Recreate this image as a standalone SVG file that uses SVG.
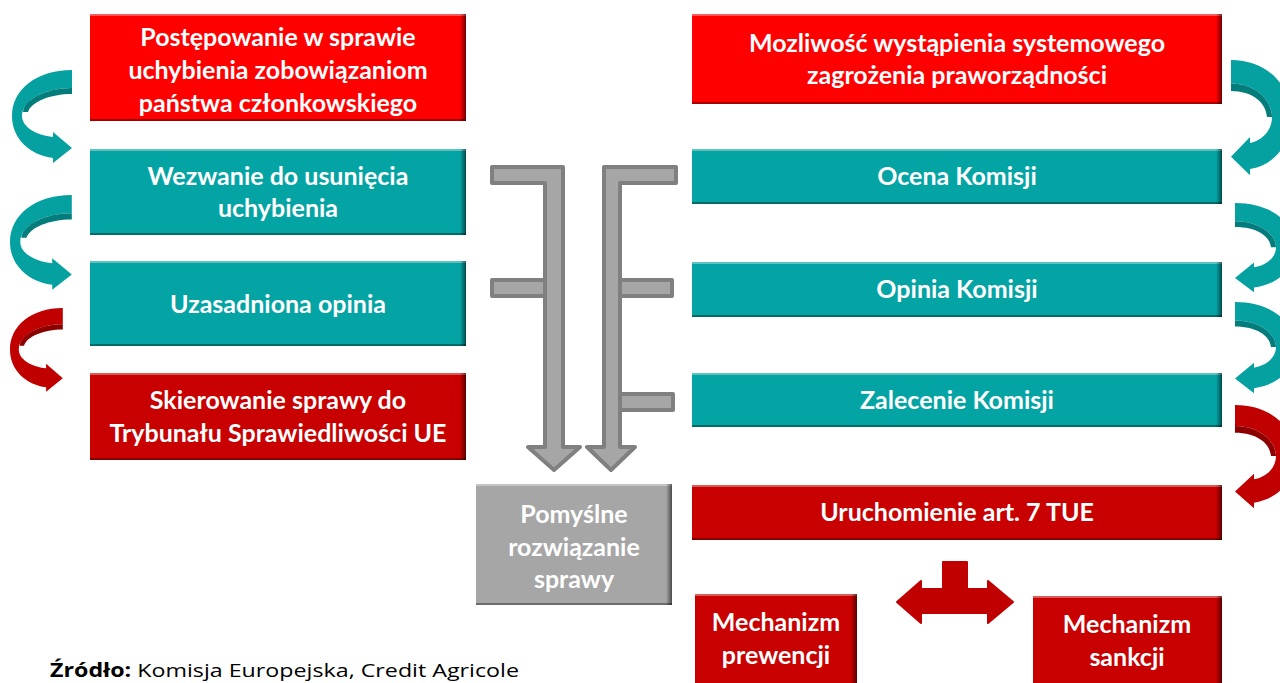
<svg xmlns="http://www.w3.org/2000/svg" width="1280" height="683" viewBox="0 0 1280 683">
<defs>
<style>
.t{font-family:Lato,"Liberation Sans",sans-serif;font-weight:bold;font-size:25px;fill:#fff;text-anchor:middle}
.red{fill:#ff0000}
.dred{fill:#c80000}
.teal{fill:#05a4a4}
.grey{fill:#a6a6a6}
.edge{fill:url(#edgeR)}
.bot{fill:#000;opacity:.35}
.top{fill:#fff;opacity:.35}
.ga{fill:#a6a6a6;stroke:#808080;stroke-width:4;stroke-linejoin:round}
.src{font-family:"Open Sans","Liberation Sans",sans-serif;font-size:19px;fill:#000}
</style>
<linearGradient id="edgeR" x1="0" y1="0" x2="1" y2="0">
<stop offset="0" stop-color="#000" stop-opacity="0"/>
<stop offset="1" stop-color="#000" stop-opacity=".55"/>
</linearGradient>
<path id="carc" d="M60,0 C24,0 0,20 0,46 C0,69 18,85 41,88 L41,93 L60,78 L41,62 L41,67 C29,65 19,57 19,46 C19,32 36,19 60,19 Z"/>
<path id="cshade" d="M60,19 C36,19 19,32 19,46 L24,46 C25,34 39,25 60,25 Z"/>
<path id="carcL" d="M60,0 C24,0 0,20 0,46 C0,69 18,85 41,88 L41,93 L60,78 L41,62 L41,67 C24,65 10,57 10,46 C10,30 33,18 60,18 Z"/>
<path id="cshadeL" d="M60,18 C33,18 12,30 11,42 L16,42 C19,32 38,24 60,24 Z"/>
</defs>

<g id="connectors">
<g id="curve-l1" transform="translate(12,70)"><use href="#carcL" fill="#05a0a0"/><use href="#cshadeL" fill="#037c7c"/></g>
<g id="curve-l2" transform="translate(10,195) scale(1.03,1.02)"><use href="#carcL" fill="#05a0a0"/><use href="#cshadeL" fill="#037c7c"/></g>
<g id="curve-l3" transform="translate(10,308) scale(0.88,0.9)"><use href="#carcL" fill="#c00000"/><use href="#cshadeL" fill="#8e0000"/></g>
<g id="curve-r1" transform="translate(1291,60) scale(-1,1.24)"><use href="#carc" fill="#05a0a0"/><use href="#cshade" fill="#037c7c"/></g>
<g id="curve-r2" transform="translate(1295,203) scale(-1,0.96)"><use href="#carc" fill="#05a0a0"/><use href="#cshade" fill="#037c7c"/></g>
<g id="curve-r3" transform="translate(1295,302) scale(-1,0.98)"><use href="#carc" fill="#05a0a0"/><use href="#cshade" fill="#037c7c"/></g>
<g id="curve-r4" transform="translate(1295,405) scale(-1,1.11)"><use href="#carc" fill="#c00000"/><use href="#cshade" fill="#8e0000"/></g>

<g id="grey-left">
<rect class="ga" x="492" y="280" width="55" height="16"/>
<polygon class="ga" points="492,167 563,167 563,447 580,447 554,470 528,447 545,447 545,183 492,183"/>
</g>
<g id="grey-right">
<rect class="ga" x="618" y="280" width="54" height="16"/>
<rect class="ga" x="618" y="394" width="55" height="16"/>
<polygon class="ga" points="604,167 676,167 676,183 620,183 620,447 635,447 611,470 587,447 604,447"/>
</g>

<polygon id="double-arrow" fill="#c00000" stroke="#c00000" stroke-width="2" stroke-linejoin="round" points="897,602 921,581 921,589 943,589 943,562 967,562 967,589 988,589 988,581 1013,602 988,623 988,613 921,613 921,623"/>
</g>

<g id="n1"><rect class="red" x="90" y="14" width="376" height="107"/><rect class="top" x="90" y="14" width="376" height="2"/><rect class="edge" x="460" y="14" width="6" height="107"/><rect class="bot" x="90" y="119" width="376" height="2"/>
<text class="t" x="278" y="46">Postępowanie w sprawie</text><text class="t" x="278" y="79">uchybienia zobowiązaniom</text><text class="t" x="278" y="112">państwa członkowskiego</text></g>

<g id="n2"><rect class="teal" x="90" y="149" width="376" height="86"/><rect class="top" x="90" y="149" width="376" height="2"/><rect class="edge" x="460" y="149" width="6" height="86"/><rect class="bot" x="90" y="233" width="376" height="2"/>
<text class="t" x="278" y="185">Wezwanie do usunięcia</text><text class="t" x="278" y="217">uchybienia</text></g>

<g id="n3"><rect class="teal" x="90" y="261" width="376" height="85"/><rect class="top" x="90" y="261" width="376" height="2"/><rect class="edge" x="460" y="261" width="6" height="85"/><rect class="bot" x="90" y="344" width="376" height="2"/>
<text class="t" x="278" y="313">Uzasadniona opinia</text></g>

<g id="n4"><rect class="dred" x="90" y="373" width="376" height="87"/><rect class="top" x="90" y="373" width="376" height="2"/><rect class="edge" x="460" y="373" width="6" height="87"/><rect class="bot" x="90" y="458" width="376" height="2"/>
<text class="t" x="278" y="409">Skierowanie sprawy do</text><text class="t" x="278" y="442">Trybunału Sprawiedliwości UE</text></g>

<g id="r1"><rect class="red" x="692" y="14" width="530" height="90"/><rect class="top" x="692" y="14" width="530" height="2"/><rect class="edge" x="1216" y="14" width="6" height="90"/><rect class="bot" x="692" y="102" width="530" height="2"/>
<text class="t" x="957" y="52">Mozliwość wystąpienia systemowego</text><text class="t" x="957" y="84">zagrożenia praworządności</text></g>

<g id="r2"><rect class="teal" x="692" y="149" width="530" height="55"/><rect class="top" x="692" y="149" width="530" height="2"/><rect class="edge" x="1216" y="149" width="6" height="55"/><rect class="bot" x="692" y="202" width="530" height="2"/>
<text class="t" x="957" y="185">Ocena Komisji</text></g>

<g id="r3"><rect class="teal" x="692" y="262" width="530" height="55"/><rect class="top" x="692" y="262" width="530" height="2"/><rect class="edge" x="1216" y="262" width="6" height="55"/><rect class="bot" x="692" y="315" width="530" height="2"/>
<text class="t" x="957" y="298">Opinia Komisji</text></g>

<g id="r4"><rect class="teal" x="692" y="373" width="530" height="54"/><rect class="top" x="692" y="373" width="530" height="2"/><rect class="edge" x="1216" y="373" width="6" height="54"/><rect class="bot" x="692" y="425" width="530" height="2"/>
<text class="t" x="957" y="409">Zalecenie Komisji</text></g>

<g id="r5"><rect class="dred" x="692" y="485" width="530" height="55"/><rect class="top" x="692" y="485" width="530" height="2"/><rect class="edge" x="1216" y="485" width="6" height="55"/><rect class="bot" x="692" y="538" width="530" height="2"/>
<text class="t" x="957" y="521">Uruchomienie art. 7 TUE</text></g>

<g id="grey-box"><rect class="grey" x="476" y="484" width="196" height="121"/><rect class="top" x="476" y="484" width="196" height="2"/><rect class="edge" x="666" y="484" width="6" height="121"/><rect class="bot" x="476" y="603" width="196" height="2"/>
<text class="t" x="574" y="523">Pomyślne</text><text class="t" x="574" y="556">rozwiązanie</text><text class="t" x="574" y="588">sprawy</text></g>

<g id="m1"><rect class="dred" x="695" y="594" width="162" height="95"/><rect class="top" x="695" y="594" width="162" height="2"/><rect class="edge" x="851" y="594" width="6" height="95"/>
<text class="t" x="776" y="631">Mechanizm</text><text class="t" x="776" y="664">prewencji</text></g>

<g id="m2"><rect class="dred" x="1033" y="596" width="189" height="95"/><rect class="top" x="1033" y="596" width="189" height="2"/><rect class="edge" x="1216" y="596" width="6" height="95"/>
<text class="t" x="1127" y="633">Mechanizm</text><text class="t" x="1127" y="666">sankcji</text></g>

<text class="src" x="50" y="677" textLength="469" lengthAdjust="spacingAndGlyphs"><tspan font-weight="bold">Źródło:</tspan> Komisja Europejska, Credit Agricole</text>
</svg>
